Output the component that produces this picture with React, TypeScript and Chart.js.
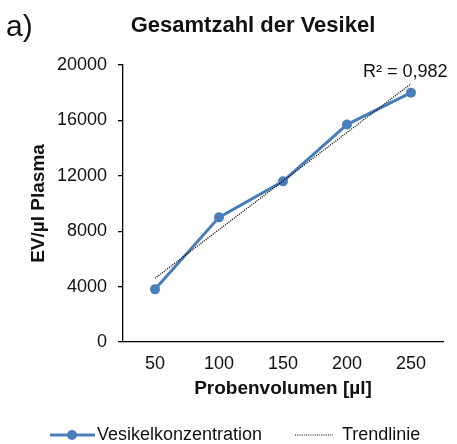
import React, { useEffect, useRef } from 'react';
import { Chart, registerables } from 'chart.js';

Chart.register(...registerables);

const categories = ['50', '100', '150', '200', '250'];
const volumes = [50, 100, 150, 200, 250];
const concentration = [3800, 9000, 11600, 15700, 18000];
const yMin = 0;
const yMax = 20000;
const yStep = 4000;

const panelLabel = 'a)';
const chartTitle = 'Gesamtzahl der Vesikel';
const yTitle = 'EV/µl Plasma';
const xTitle = 'Probenvolumen [µl]';
const seriesName = 'Vesikelkonzentration';
const trendName = 'Trendlinie';
const r2Label = 'R² = 0,982';

const FONT = "'Liberation Sans', Arial, sans-serif";
const BLUE = '#4a7ebb';
const TEXT = '#111';

function linearFit(xs: number[], ys: number[]): number[] {
  const n = xs.length;
  const mx = xs.reduce((a, b) => a + b, 0) / n;
  const my = ys.reduce((a, b) => a + b, 0) / n;
  let sxy = 0;
  let sxx = 0;
  for (let i = 0; i < n; i++) {
    sxy += (xs[i] - mx) * (ys[i] - my);
    sxx += (xs[i] - mx) * (xs[i] - mx);
  }
  const slope = sxy / sxx;
  const intercept = my - slope * mx;
  return xs.map((x) => slope * x + intercept);
}

const trend = linearFit(volumes, concentration);

const decorPlugin = {
  id: 'decor',
  afterDraw(chart: any) {
    const ctx = chart.ctx as CanvasRenderingContext2D;
    ctx.save();
    ctx.fillStyle = TEXT;
    ctx.textBaseline = 'alphabetic';
    // panel label
    ctx.textAlign = 'left';
    ctx.font = `30px ${FONT}`;
    ctx.fillText(panelLabel, 6, 36);
    // title
    ctx.textAlign = 'center';
    ctx.font = `bold 22px ${FONT}`;
    ctx.fillText(chartTitle, 253, 32);
    // R2
    ctx.textAlign = 'left';
    ctx.textBaseline = 'middle';
    ctx.font = `18px ${FONT}`;
    ctx.fillText(r2Label, 363, 72);
    // legend
    const ly = 435;
    ctx.strokeStyle = BLUE;
    ctx.lineWidth = 3;
    ctx.beginPath();
    ctx.moveTo(50, ly);
    ctx.lineTo(95, ly);
    ctx.stroke();
    ctx.fillStyle = BLUE;
    ctx.beginPath();
    ctx.arc(72, ly, 5, 0, Math.PI * 2);
    ctx.fill();
    ctx.fillStyle = TEXT;
    ctx.fillText(seriesName, 97, ly);
    ctx.strokeStyle = '#000';
    ctx.lineWidth = 1.2;
    ctx.setLineDash([1, 1.2]);
    ctx.beginPath();
    ctx.moveTo(295, ly);
    ctx.lineTo(333, ly);
    ctx.stroke();
    ctx.setLineDash([]);
    ctx.fillText(trendName, 342, ly);
    ctx.restore();
  },
};

export default function App() {
  const canvasRef = useRef<HTMLCanvasElement | null>(null);

  useEffect(() => {
    const canvas = canvasRef.current;
    if (!canvas) return;
    const chart = new Chart(canvas, {
      type: 'line',
      data: {
        labels: categories,
        datasets: [
          {
            label: seriesName,
            data: concentration,
            borderColor: BLUE,
            backgroundColor: BLUE,
            borderWidth: 3,
            pointRadius: 5,
            pointBackgroundColor: BLUE,
            pointBorderColor: BLUE,
            pointBorderWidth: 0,
            tension: 0,
            order: 1,
          },
          {
            label: trendName,
            data: trend,
            borderColor: '#000',
            borderWidth: 1.3,
            borderDash: [1, 1.2],
            pointRadius: 0,
            tension: 0,
            order: 0,
          },
        ],
      },
      options: {
        responsive: false,
        animation: false,
        devicePixelRatio: 1,
        layout: { padding: { top: 65, right: 14, bottom: 44, left: 0 } },
        plugins: {
          legend: { display: false },
          title: { display: false },
          tooltip: { enabled: false },
        },
        scales: {
          x: {
            type: 'category',
            offset: true,
            grid: { display: false, drawTicks: false },
            border: { display: true, color: '#000', width: 1.3 },
            ticks: {
              color: TEXT,
              font: { family: FONT, size: 18 },
              padding: 11,
              maxRotation: 0,
            },
            title: {
              display: true,
              text: xTitle,
              color: TEXT,
              font: { family: FONT, size: 19, weight: 'bold' },
              padding: { top: 0, bottom: 0 },
            },
            afterFit(scale: any) {
              scale.height = 58;
            },
          },
          y: {
            min: yMin,
            max: yMax,
            grid: {
              display: true,
              drawOnChartArea: false,
              drawTicks: true,
              tickLength: 5,
              color: '#000',
              lineWidth: 1.3,
            },
            border: { display: true, color: '#000', width: 1.3 },
            ticks: {
              stepSize: yStep,
              color: TEXT,
              font: { family: FONT, size: 18 },
              padding: 11,
              callback: (v: any) => String(v),
            },
            title: {
              display: true,
              text: yTitle,
              color: TEXT,
              font: { family: FONT, size: 19, weight: 'bold' },
              padding: { top: 27, bottom: 0 },
            },
            afterFit(scale: any) {
              scale.width = 123;
            },
          },
        },
      },
      plugins: [decorPlugin],
    });
    return () => chart.destroy();
  }, []);

  return (
    <div style={{ position: 'fixed', left: 0, top: 0, width: 457, height: 444, background: '#fff' }}>
      <canvas ref={canvasRef} width={457} height={444} style={{ display: 'block', width: 457, height: 444 }} />
    </div>
  );
}
